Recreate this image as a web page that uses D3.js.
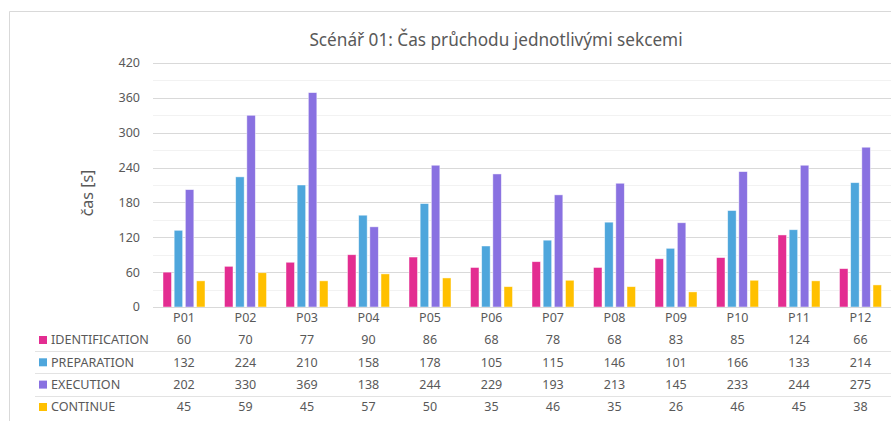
<!DOCTYPE html>
<html lang="cs">
<head>
<meta charset="UTF-8">
<title>Scénář 01</title>
<script src="https://d3js.org/d3.v7.min.js"></script>
<style>
  body { margin: 0; background: #fff; }
  text { font-family: "Noto Sans", "Open Sans", sans-serif; fill: #595959; }
</style>
</head>
<body>
<svg id="main" width="891" height="421"></svg>
<script>
// data
const categories = ['P01','P02','P03','P04','P05','P06','P07','P08','P09','P10','P11','P12'];
const seriesNames = ['IDENTIFICATION','PREPARATION','EXECUTION','CONTINUE'];
const identification = [60, 70, 77, 90, 86, 68, 78, 68, 83, 85, 124, 66];
const preparation   = [132, 224, 210, 158, 178, 105, 115, 146, 101, 166, 133, 214];
const execution     = [202, 330, 369, 138, 244, 229, 193, 213, 145, 233, 244, 275];
const continueVals  = [45, 59, 45, 57, 50, 35, 46, 35, 26, 46, 45, 38];
const yTicks = [0, 60, 120, 180, 240, 300, 360, 420];
const colors = ['#E32D91', '#4EA6DC', '#8971E1', '#FFC000'];

const seriesValues = [identification, preparation, execution, continueVals];

const svg = d3.select('svg#main');

// chart frame (only top and left edge visible in the crop)
svg.append('path')
  .attr('d', 'M9.5,421 V11.5 H891')
  .attr('fill', 'none')
  .attr('stroke', '#d9d9d9');

// title
svg.append('text')
  .attr('x', 496).attr('y', 46)
  .attr('text-anchor', 'middle')
  .style('font-size', '17.2px')
  .text('Scénář 01: Čas průchodu jednotlivými sekcemi');

let x0 = d3.scaleBand().domain(categories).range([153.25, 891.25]);
let x1 = d3.scaleBand().domain(seriesNames).range([9.75, x0.bandwidth() - 9.75]).paddingInner(0.24);
let y = d3.scaleLinear().domain([0, 420]).range([307, 63]);

// minor gridlines
svg.append('g').selectAll('line')
  .data(d3.range(30, 420, 60))
  .join('line')
  .attr('x1', 153).attr('x2', 891)
  .attr('y1', d => Math.round(y(d)) + 0.5).attr('y2', d => Math.round(y(d)) + 0.5)
  .attr('stroke', '#f2f2f2');

// major gridlines
svg.append('g').selectAll('line')
  .data(yTicks.slice(1))
  .join('line')
  .attr('x1', 153).attr('x2', 891)
  .attr('y1', d => Math.round(y(d)) + 0.5).attr('y2', d => Math.round(y(d)) + 0.5)
  .attr('stroke', '#d9d9d9');

// y tick labels
svg.append('g').selectAll('text')
  .data(yTicks)
  .join('text')
  .attr('x', 140).attr('y', d => y(d))
  .attr('dy', '0.35em')
  .attr('text-anchor', 'end')
  .style('font-size', '12.5px')
  .text(d => d);

// y axis title
svg.append('text')
  .attr('transform', 'translate(93,193) rotate(-90)')
  .attr('text-anchor', 'middle')
  .style('font-size', '16px')
  .text('čas [s]');

// bars
let groups = svg.append('g').selectAll('g')
  .data(categories)
  .join('g')
  .attr('transform', d => 'translate(' + x0(d) + ',0)');

groups.selectAll('rect')
  .data((c, i) => seriesNames.map((s, k) => ({ s: s, v: seriesValues[k][i], k: k })))
  .join('rect')
  .attr('x', d => x1(d.s))
  .attr('width', x1.bandwidth())
  .attr('y', d => y(d.v))
  .attr('height', d => y(0) - y(d.v))
  .attr('fill', d => colors[d.k])
  .attr('stroke', '#fff')
  .attr('stroke-opacity', 0.6)
  .attr('stroke-width', 0.75);

// x axis line
svg.append('line')
  .attr('x1', 153).attr('x2', 891)
  .attr('y1', 307.5).attr('y2', 307.5)
  .attr('stroke', '#d9d9d9');

// category labels
svg.append('g').selectAll('text')
  .data(categories)
  .join('text')
  .attr('x', d => x0(d) + x0.bandwidth() / 2)
  .attr('y', 318).attr('dy', '0.35em')
  .attr('text-anchor', 'middle')
  .style('font-size', '12.5px')
  .text(d => d);

// data table
const rowY = [340, 362.3, 384.6, 407];
const sepY = [351.5, 373.5, 396.5];

svg.append('g').selectAll('line')
  .data(sepY)
  .join('line')
  .attr('x1', 35).attr('x2', 891)
  .attr('y1', d => d).attr('y2', d => d)
  .attr('stroke', '#e3e3e3')
  .attr('stroke-width', 1.2);

seriesNames.forEach((s, k) => {
  svg.append('rect')
    .attr('x', 39).attr('y', rowY[k] - 4)
    .attr('width', 8).attr('height', 8)
    .attr('fill', colors[k]);
  svg.append('text')
    .attr('x', 51).attr('y', rowY[k]).attr('dy', '0.35em')
    .style('font-size', '12.6px')
    .text(s);
  svg.append('g').selectAll('text')
    .data(seriesValues[k])
    .join('text')
    .attr('x', (d, i) => x0(categories[i]) + x0.bandwidth() / 2)
    .attr('y', rowY[k]).attr('dy', '0.35em')
    .attr('text-anchor', 'middle')
    .style('font-size', '12.5px')
    .text(d => d);
});
</script>
</body>
</html>
